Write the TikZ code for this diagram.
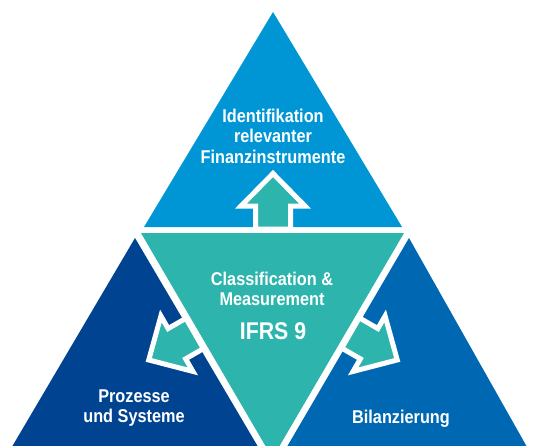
\documentclass[tikz,border=0pt]{standalone}
\usepackage{fontspec}
\newfontfamily\labelfont[FakeStretch=0.88]{Liberation Sans}
\definecolor{topblue}{RGB}{0,150,214}
\definecolor{leftblue}{RGB}{0,68,145}
\definecolor{rightblue}{RGB}{0,104,178}
\definecolor{ifrsteal}{RGB}{45,181,173}
\begin{document}
\begin{tikzpicture}[x=1pt, y=-1pt,
    boxtext/.style={text=white, font=\labelfont\bfseries\fontsize{18.5}{20.5}\selectfont, align=center, inner sep=0pt, anchor=base},
    arrowshape/.style={fill=ifrsteal, draw=white, line width=5pt, line join=miter}]
    \useasboundingbox (0,0) rectangle (533,445);
    \clip (0,0) rectangle (533,445);
    \fill[white] (0,0) rectangle (533,445);

    \coordinate (topapex) at (273,12);
    \coordinate (leftapex) at (135,238);
    \coordinate (rightapex) at (409,238);
    \coordinate (tealtip) at (272.5,458);

    \fill[topblue] (topapex) -- (402,227) -- (144,227) -- cycle;
    \fill[leftblue] (leftapex) -- (271.7,470) -- (-1.7,470) -- cycle;
    \fill[rightblue] (rightapex) -- (540,470) -- (273.4,470) -- cycle;
    \fill[ifrsteal] (141,233) -- (404,233) -- (tealtip) -- cycle;

    \foreach \ax/\ay/\ang/\len in {273/206/0/23, 176.9/343.7/120/20.5, 369.1/343.7/-120/21.5}
      \draw[arrowshape, shift={(\ax,\ay)}, rotate=\ang]
        (0,-32.5) -- (32,0) -- (17.5,0) -- (17.5,\len) -- (-17.5,\len) -- (-17.5,0) -- (-32,0) -- cycle;

    % base anchor sits on the last line
    \node[boxtext] (ident) at (273,163) {Identifikation\\relevanter\\Finanzinstrumente};
    \node[boxtext] (classif) at (272,305.7) {Classification \&\\Measurement};
    \node[boxtext, font=\labelfont\bfseries\fontsize{24.2}{26}\selectfont] (ifrs) at (273,339) {IFRS 9};
    \node[boxtext] (prozess) at (134,422.7) {Prozesse\\und Systeme};
    \node[boxtext] (bilanz) at (401,423.3) {Bilanzierung};
\end{tikzpicture}
\end{document}
